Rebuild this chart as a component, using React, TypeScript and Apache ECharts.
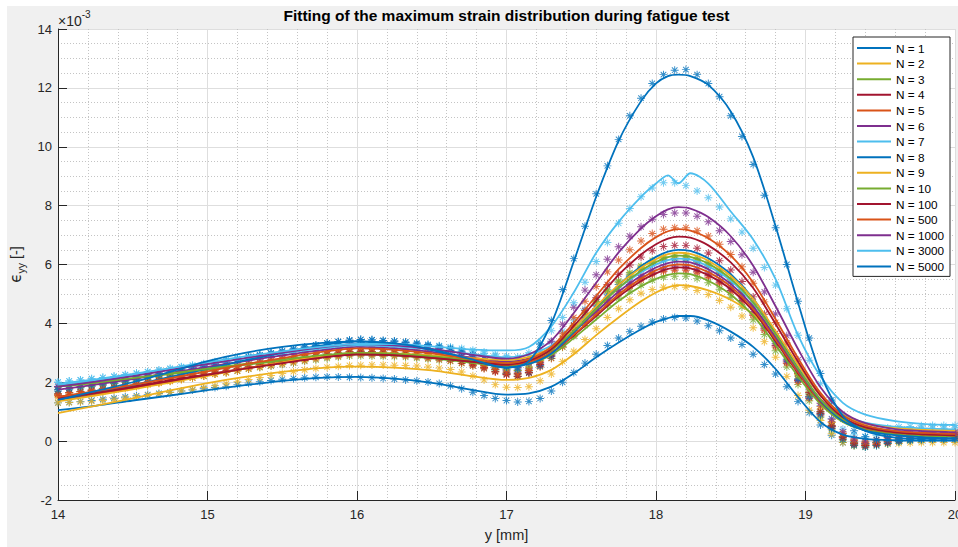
import React, { useEffect, useRef } from 'react';
import * as echarts from 'echarts';

// sample positions of the measured strain (mm)
const MX = [
  14.000, 14.075, 14.150, 14.225, 14.300, 14.375, 14.450, 14.525, 14.600, 14.675,
  14.750, 14.825, 14.900, 14.975, 15.050, 15.125, 15.200, 15.275, 15.350, 15.425,
  15.500, 15.575, 15.650, 15.725, 15.800, 15.875, 15.950, 16.025, 16.100, 16.175,
  16.250, 16.325, 16.400, 16.475, 16.550, 16.625, 16.700, 16.775, 16.850, 16.925,
  17.000, 17.075, 17.150, 17.225, 17.300, 17.375, 17.450, 17.525, 17.600, 17.675,
  17.750, 17.825, 17.900, 17.975, 18.050, 18.125, 18.200, 18.275, 18.350, 18.425,
  18.500, 18.575, 18.650, 18.725, 18.800, 18.875, 18.950, 19.025, 19.100, 19.175,
  19.250, 19.325, 19.400, 19.475, 19.550, 19.625, 19.700, 19.775, 19.850, 19.925,
  20.000,
];

// positions where the fitted curves are drawn (mm)
const LX = [14.0, 14.25, 14.5, 14.75, 15.0, 15.25, 15.5, 15.75, 16.0, 16.25, 16.5, 16.75, 17.0,
  17.15, 17.3, 17.45, 17.6, 17.75, 17.9, 18.0, 18.08, 18.15, 18.23,
  18.35, 18.5, 18.65, 18.8, 18.95, 19.1, 19.25, 19.4, 19.6, 19.8, 20.0];

const LABELS = ['N = 1', 'N = 2', 'N = 3', 'N = 4', 'N = 5', 'N = 6', 'N = 7', 'N = 8', 'N = 9', 'N = 10',
  'N = 100', 'N = 500', 'N = 1000', 'N = 3000', 'N = 5000'];

const BLUE = '#0072BD', YELLOW = '#EDB120', GREEN = '#77AC30', DRED = '#A2142F',
  ORANGE = '#D95319', PURPLE = '#7E2F8E', LBLUE = '#4DBEEE';
const COLORS = [BLUE, YELLOW, GREEN, DRED, ORANGE, PURPLE, LBLUE, BLUE, YELLOW, GREEN, DRED, ORANGE, PURPLE, LBLUE, BLUE];

// measured strain (x 1e-3)
const M_N1 = [1.30,1.32,1.35,1.38,1.42,1.46,1.50,1.54,1.58,1.62, 1.66,1.70,1.74,1.78,1.82,1.86,1.92,1.97,2.02,2.06, 2.10,2.13,2.15,2.17,2.18,2.18,2.17,2.16,2.15,2.13, 2.11,2.08,2.05,2.01,1.96,1.88,1.78,1.66,1.55,1.45, 1.38,1.33,1.35,1.45,1.70,2.00,2.33,2.65,2.95,3.25, 3.50,3.72,3.90,4.05,4.15,4.20,4.18,4.08,3.92,3.75, 3.50,3.28,2.95,2.60,2.28,1.85,1.35,0.97,0.55,0.20, -0.05,-0.10,-0.08,-0.05,-0.02,0.00,0.02,0.02,0.03,0.03, 0.03];
const M_N2 = [1.30,1.31,1.33,1.35,1.38,1.42,1.46,1.50,1.55,1.60, 1.65,1.70,1.76,1.82,1.88,1.95,2.02,2.09,2.16,2.23, 2.30,2.36,2.42,2.47,2.51,2.54,2.57,2.58,2.59,2.59, 2.58,2.57,2.55,2.52,2.48,2.43,2.35,2.22,2.08,1.92, 1.83,1.82,1.85,2.05,2.28,2.70,3.05,3.45,3.82,4.20, 4.50,4.80,5.02,5.15,5.23,5.25,5.23,5.12,4.98,4.78, 4.55,4.25,3.85,3.38,2.85,2.20,1.55,1.05,0.70,0.25, -0.05,-0.15,-0.15,-0.12,-0.10,-0.08,-0.06,-0.05,-0.05,-0.05, -0.05];
const M_N3 = [1.60,1.64,1.68,1.72,1.76,1.80,1.85,1.90,1.95,2.00, 2.06,2.11,2.16,2.21,2.28,2.33,2.38,2.45,2.50,2.55, 2.60,2.65,2.71,2.76,2.81,2.85,2.89,2.90,2.89,2.88, 2.87,2.85,2.82,2.79,2.75,2.71,2.64,2.56,2.48,2.38, 2.30,2.25,2.35,2.55,2.82,3.19,3.56,3.93,4.26,4.60, 4.86,5.10,5.30,5.47,5.57,5.60,5.60,5.52,5.38,5.16, 4.89,4.56,4.12,3.62,3.07,2.52,1.92,1.37,0.82,0.39, 0.04,-0.15,-0.20,-0.15,-0.08,-0.02,0.03,0.06,0.08,0.09, 0.10];
const M_N4 = [1.85,1.88,1.92,1.95,1.99,2.02,2.07,2.11,2.16,2.21, 2.25,2.30,2.34,2.39,2.45,2.49,2.54,2.60,2.64,2.69, 2.74,2.78,2.83,2.87,2.92,2.95,2.99,3.00,2.99,2.98, 2.97,2.94,2.92,2.88,2.84,2.79,2.72,2.64,2.55,2.44, 2.35,2.30,2.41,2.62,2.90,3.29,3.68,4.08,4.43,4.79, 5.07,5.32,5.53,5.71,5.81,5.85,5.85,5.77,5.62,5.40, 5.12,4.78,4.32,3.82,3.25,2.69,2.06,1.50,0.94,0.50, 0.15,-0.04,-0.10,-0.05,0.02,0.08,0.13,0.16,0.18,0.19, 0.20];
const M_N5 = [1.55,1.59,1.63,1.68,1.72,1.76,1.82,1.87,1.93,1.98, 2.04,2.10,2.15,2.21,2.28,2.33,2.39,2.46,2.52,2.57, 2.63,2.68,2.74,2.80,2.85,2.89,2.94,2.95,2.94,2.93, 2.91,2.89,2.86,2.82,2.78,2.73,2.65,2.56,2.46,2.35, 2.25,2.20,2.31,2.52,2.81,3.21,3.60,4.00,4.36,4.72, 5.01,5.26,5.48,5.66,5.76,5.80,5.80,5.72,5.57,5.35, 5.07,4.73,4.27,3.77,3.20,2.64,2.01,1.45,0.89,0.45, 0.10,-0.09,-0.15,-0.10,-0.03,0.03,0.08,0.11,0.13,0.14, 0.15];
const M_N6 = [1.85,1.89,1.93,1.97,2.01,2.05,2.11,2.16,2.21,2.27, 2.32,2.38,2.43,2.48,2.55,2.61,2.66,2.73,2.78,2.84, 2.89,2.94,3.00,3.05,3.11,3.15,3.19,3.20,3.19,3.17, 3.16,3.13,3.10,3.06,3.00,2.95,2.86,2.76,2.65,2.52, 2.41,2.35,2.46,2.67,2.96,3.36,3.75,4.15,4.51,4.87, 5.16,5.41,5.63,5.81,5.91,5.95,5.95,5.86,5.72,5.49, 5.20,4.86,4.40,3.88,3.31,2.73,2.10,1.52,0.96,0.51, 0.15,-0.04,-0.10,-0.05,0.02,0.08,0.13,0.16,0.18,0.19, 0.20];
const M_N7 = [2.00,2.04,2.08,2.12,2.16,2.20,2.25,2.30,2.35,2.40, 2.46,2.51,2.56,2.61,2.68,2.73,2.78,2.85,2.90,2.95, 3.00,3.05,3.11,3.16,3.21,3.25,3.29,3.30,3.30,3.29, 3.28,3.26,3.24,3.22,3.19,3.15,3.10,3.04,2.98,2.90, 2.84,2.80,2.90,3.10,3.37,3.74,4.11,4.48,4.81,5.15, 5.41,5.65,5.85,6.02,6.12,6.15,6.15,6.06,5.92,5.69, 5.41,5.07,4.61,4.10,3.53,2.96,2.33,1.76,1.20,0.76, 0.40,0.21,0.15,0.20,0.27,0.33,0.38,0.41,0.43,0.44, 0.45];
const M_N8 = [1.70,1.75,1.81,1.86,1.91,1.96,2.03,2.10,2.17,2.24, 2.31,2.38,2.45,2.52,2.61,2.68,2.75,2.84,2.91,2.98, 3.05,3.12,3.19,3.26,3.33,3.38,3.43,3.45,3.44,3.41, 3.39,3.35,3.30,3.24,3.16,3.08,2.95,2.80,2.64,2.45, 2.29,2.20,2.32,2.56,2.88,3.32,3.76,4.20,4.60,5.00, 5.32,5.60,5.84,6.04,6.16,6.20,6.20,6.11,5.96,5.71, 5.41,5.04,4.55,4.00,3.39,2.78,2.11,1.50,0.90,0.44, 0.06,-0.14,-0.20,-0.15,-0.08,-0.02,0.03,0.06,0.08,0.09, 0.10];
const M_N9 = [1.50,1.55,1.59,1.64,1.68,1.73,1.79,1.85,1.91,1.97, 2.03,2.09,2.15,2.21,2.28,2.34,2.40,2.48,2.54,2.60, 2.66,2.72,2.78,2.84,2.90,2.94,2.99,3.00,2.99,2.98, 2.97,2.95,2.93,2.90,2.86,2.82,2.76,2.69,2.61,2.52, 2.44,2.40,2.52,2.75,3.05,3.48,3.90,4.33,4.71,5.10, 5.40,5.67,5.90,6.10,6.21,6.25,6.25,6.16,6.01,5.77, 5.48,5.12,4.64,4.11,3.51,2.92,2.26,1.67,1.08,0.63, 0.26,0.06,0.00,0.05,0.12,0.18,0.23,0.26,0.28,0.29, 0.30];
const M_N10 = [1.75,1.79,1.83,1.87,1.91,1.95,2.00,2.05,2.10,2.15, 2.21,2.26,2.31,2.36,2.43,2.48,2.53,2.60,2.65,2.70, 2.75,2.80,2.86,2.91,2.96,3.00,3.04,3.05,3.04,3.03, 3.02,3.00,2.97,2.94,2.90,2.86,2.79,2.71,2.63,2.53, 2.45,2.40,2.52,2.75,3.06,3.49,3.92,4.35,4.74,5.13, 5.44,5.72,5.95,6.14,6.26,6.30,6.30,6.21,6.06,5.81, 5.51,5.14,4.65,4.10,3.49,2.88,2.21,1.60,1.00,0.54, 0.16,-0.04,-0.10,-0.05,0.02,0.08,0.13,0.16,0.18,0.19, 0.20];
const M_N100 = [1.60,1.64,1.69,1.73,1.77,1.82,1.88,1.93,1.99,2.05, 2.11,2.17,2.22,2.28,2.35,2.41,2.47,2.54,2.60,2.66, 2.72,2.77,2.83,2.89,2.95,2.99,3.04,3.05,3.04,3.02, 3.01,2.98,2.95,2.91,2.85,2.80,2.71,2.61,2.50,2.37, 2.26,2.20,2.33,2.60,2.96,3.45,3.94,4.43,4.87,5.32, 5.67,5.98,6.25,6.47,6.61,6.65,6.65,6.55,6.39,6.13, 5.81,5.42,4.90,4.31,3.66,3.01,2.30,1.65,1.01,0.52, 0.13,-0.09,-0.15,-0.10,-0.03,0.03,0.08,0.11,0.13,0.14, 0.15];
const M_N500 = [1.60,1.65,1.69,1.74,1.79,1.83,1.89,1.96,2.02,2.08, 2.14,2.20,2.27,2.33,2.41,2.47,2.53,2.61,2.67,2.73, 2.79,2.86,2.92,2.98,3.04,3.09,3.13,3.15,3.14,3.12, 3.11,3.08,3.04,3.00,2.94,2.88,2.79,2.68,2.57,2.43, 2.31,2.25,2.40,2.70,3.10,3.65,4.20,4.75,5.25,5.75, 6.15,6.50,6.80,7.05,7.20,7.25,7.25,7.15,6.97,6.69, 6.34,5.92,5.36,4.73,4.03,3.33,2.56,1.86,1.18,0.66, 0.25,0.02,-0.05,0.00,0.07,0.13,0.18,0.21,0.23,0.24, 0.25];
const M_N1000 = [1.85,1.90,1.94,1.99,2.03,2.08,2.14,2.20,2.26,2.32, 2.38,2.44,2.50,2.56,2.63,2.69,2.75,2.83,2.89,2.95, 3.01,3.07,3.13,3.19,3.25,3.29,3.34,3.35,3.34,3.32, 3.31,3.28,3.25,3.21,3.15,3.10,3.01,2.91,2.80,2.67, 2.56,2.50,2.66,2.97,3.39,3.97,4.55,5.13,5.65,6.18, 6.60,6.96,7.28,7.54,7.70,7.75,7.75,7.64,7.45,7.15, 6.78,6.33,5.74,5.07,4.32,3.58,2.76,2.01,1.29,0.75, 0.31,0.07,0.00,0.05,0.12,0.18,0.23,0.26,0.28,0.29, 0.30];
const M_N3000 = [2.00,2.04,2.08,2.12,2.16,2.20,2.26,2.31,2.36,2.42, 2.47,2.53,2.58,2.63,2.70,2.76,2.81,2.88,2.93,2.99, 3.04,3.09,3.15,3.20,3.26,3.30,3.34,3.35,3.35,3.34, 3.33,3.31,3.29,3.27,3.24,3.20,3.15,3.09,3.03,2.95, 2.89,2.85,3.00,3.30,3.75,4.20,4.70,5.40,6.10,6.75, 7.40,7.90,8.30,8.60,8.78,8.78,8.68,8.50,8.27,7.95, 7.55,7.10,6.55,5.90,5.30,4.50,3.60,2.75,1.95,1.30, 0.85,0.60,0.45,0.42,0.45,0.48,0.50,0.52,0.53,0.53, 0.53];
const M_N5000 = [1.75,1.80,1.85,1.90,1.95,2.01,2.07,2.14,2.21,2.28, 2.35,2.41,2.48,2.55,2.63,2.70,2.77,2.86,2.92,2.99, 3.06,3.13,3.20,3.26,3.33,3.38,3.43,3.45,3.44,3.42, 3.40,3.37,3.33,3.28,3.22,3.15,3.05,2.93,2.80,2.65, 2.52,2.45,2.75,3.30,4.10,5.15,6.20,7.30,8.40,9.35, 10.25,11.05,11.65,12.15,12.45,12.60,12.62,12.45,12.15,11.70, 11.05,10.35,9.40,8.35,7.25,6.00,4.75,3.50,2.30,1.40, 0.75,0.35,0.15,0.05,0.03,0.03,0.05,0.06,0.07,0.08, 0.08];

// fitted strain (x 1e-3) at LX
const L_N1 = [1.05,1.20,1.38,1.55,1.73,1.90,2.05,2.15,2.18, 2.12,1.98,1.76,1.58, 1.62,1.85,2.30,2.85,3.35,3.80,4.05,4.18,4.25,4.25, 4.10,3.72,3.20,2.45,1.50,0.65,0.22,0.08,0.03,0.02,0.02];
const L_N2 = [0.95,1.20,1.45,1.72,1.97,2.18,2.35,2.48,2.53, 2.50,2.40,2.22,2.08, 2.15,2.42,2.95,3.60,4.20,4.75,5.05,5.22,5.30,5.27, 5.12,4.80,4.30,3.55,2.55,1.55,0.80,0.40,0.22,0.18,0.17];
const L_N3 = [1.85,1.98,2.13,2.28,2.43,2.59,2.73,2.86,2.95, 2.91,2.81,2.67,2.55, 2.64,2.93,3.50,4.13,4.76,5.26,5.51,5.65,5.70,5.67, 5.45,4.98,4.26,3.26,2.20,1.26,0.65,0.37,0.23,0.18,0.15];
const L_N4 = [1.50,1.67,1.86,2.07,2.27,2.47,2.66,2.83,2.95, 2.92,2.83,2.71,2.60, 2.70,3.00,3.59,4.25,4.91,5.44,5.70,5.85,5.90,5.87, 5.64,5.16,4.42,3.39,2.31,1.34,0.71,0.43,0.29,0.23,0.20];
const L_N5 = [1.40,1.59,1.80,2.02,2.25,2.47,2.68,2.87,3.00, 2.96,2.86,2.72,2.60, 2.70,3.01,3.62,4.30,4.98,5.52,5.80,5.95,6.00,5.97, 5.74,5.25,4.49,3.45,2.35,1.36,0.72,0.43,0.29,0.23,0.20];
const L_N6 = [1.75,1.92,2.11,2.32,2.52,2.72,2.91,3.08,3.20, 3.15,3.03,2.85,2.70, 2.80,3.11,3.72,4.40,5.08,5.62,5.90,6.05,6.10,6.07, 5.84,5.34,4.58,3.53,2.41,1.42,0.78,0.48,0.34,0.28,0.25];
const L_N7 = [1.90,2.06,2.24,2.43,2.62,2.80,2.98,3.14,3.25, 3.21,3.11,2.97,2.85, 2.95,3.25,3.86,4.53,5.20,5.73,6.00,6.15,6.20,6.17, 5.94,5.45,4.69,3.65,2.55,1.56,0.92,0.63,0.49,0.43,0.40];
const L_N8 = [1.40,1.64,1.90,2.18,2.46,2.74,3.00,3.24,3.40, 3.31,3.09,2.77,2.50, 2.62,2.98,3.70,4.50,5.30,5.94,6.26,6.44,6.50,6.46, 6.21,5.67,4.84,3.68,2.47,1.38,0.68,0.36,0.20,0.13,0.10];
const L_N9 = [1.35,1.55,1.76,1.99,2.22,2.46,2.67,2.87,3.00, 2.98,2.91,2.83,2.75, 2.86,3.19,3.85,4.58,5.31,5.89,6.18,6.35,6.40,6.36, 6.13,5.61,4.83,3.74,2.59,1.56,0.89,0.59,0.44,0.38,0.35];
const L_N10 = [1.85,1.99,2.14,2.30,2.46,2.62,2.77,2.91,3.00, 2.97,2.88,2.76,2.65, 2.76,3.09,3.75,4.48,5.21,5.79,6.08,6.25,6.30,6.26, 6.03,5.51,4.71,3.62,2.46,1.42,0.75,0.44,0.29,0.23,0.20];
const L_N100 = [1.45,1.63,1.83,2.04,2.25,2.46,2.65,2.83,2.95, 2.92,2.83,2.71,2.60, 2.73,3.12,3.91,4.78,5.65,6.34,6.69,6.88,6.95,6.91, 6.65,6.07,5.20,3.98,2.70,1.55,0.81,0.47,0.30,0.23,0.20];
const L_N500 = [1.50,1.70,1.91,2.14,2.37,2.61,2.82,3.02,3.15, 3.10,2.98,2.80,2.65, 2.79,3.20,4.02,4.93,5.84,6.56,6.93,7.13,7.20,7.15, 6.89,6.30,5.39,4.14,2.82,1.64,0.88,0.53,0.35,0.28,0.25];
const L_N1000 = [1.85,2.02,2.21,2.42,2.62,2.82,3.01,3.18,3.30, 3.25,3.13,2.95,2.80, 2.95,3.42,4.35,5.38,6.41,7.23,7.64,7.87,7.95,7.90, 7.61,6.96,5.96,4.58,3.13,1.83,0.99,0.61,0.41,0.34,0.30];
const L_N3000 = [1.95,2.10,2.28,2.48,2.68,2.88,3.05,3.20,3.30, 3.30,3.22,3.12,3.08, 3.20,3.90,5.05,6.40,7.45,8.30,8.75,9.03,8.76,9.10, 8.75,7.80,6.85,5.50,3.60,2.20,1.30,0.90,0.68,0.58,0.55];
const L_N5000 = [1.40,1.70,2.00,2.35,2.72,3.00,3.20,3.33,3.38, 3.32,3.12,2.80,2.50, 2.72,4.00,6.10,8.30,10.20,11.55,12.15,12.40,12.45,12.40, 12.10,11.20,9.65,7.30,4.70,2.30,0.85,0.35,0.12,0.08,0.08];

const MARKERS = [M_N1, M_N2, M_N3, M_N4, M_N5, M_N6, M_N7, M_N8, M_N9, M_N10, M_N100, M_N500, M_N1000, M_N3000, M_N5000];
const FITS = [L_N1, L_N2, L_N3, L_N4, L_N5, L_N6, L_N7, L_N8, L_N9, L_N10, L_N100, L_N500, L_N1000, L_N3000, L_N5000];

const TITLE = 'Fitting of the maximum strain distribution during fatigue test';
const X_NAME = 'y [mm]';
const FONT = '"Liberation Sans", Arial, Helvetica, sans-serif';
const INK = '#262626';

// asterisk marker (four thin bars, same winding)
const STAR = 'path://M-0.6,-5L0.6,-5L0.6,5L-0.6,5Z' +
  'M-5,-0.6L5,-0.6L5,0.6L-5,0.6Z' +
  'M-3.08,-3.92L3.92,3.08L3.08,3.92L-3.92,-3.08Z' +
  'M-3.08,3.92L-3.92,3.08L3.08,-3.92L3.92,-3.08Z';

export default function App() {
  const ref = useRef<HTMLDivElement>(null);
  useEffect(() => {
    if (!ref.current) return;
    const chart = echarts.init(ref.current, null, { renderer: 'svg' });
    const series: any[] = [];
    LABELS.forEach((name, k) => {
      series.push({
        type: 'scatter',
        name: name + ' data',
        data: MX.map((x, i) => [x, MARKERS[k][i]]),
        symbol: STAR,
        symbolSize: 8,
        itemStyle: { color: COLORS[k] },
        silent: true,
      });
      series.push({
        type: 'line',
        name,
        data: LX.map((x, i) => [x, FITS[k][i]]),
        symbol: 'none',
        showSymbol: false,
        smooth: 0.3,
        lineStyle: { color: COLORS[k], width: 1.8 },
        itemStyle: { color: COLORS[k] },
        silent: true,
      });
    });

    const axisCommon = {
      type: 'value',
      axisLine: { show: true, onZero: false, lineStyle: { color: INK, width: 1 } },
      axisTick: { show: true, inside: true, length: 9, lineStyle: { color: INK, width: 1 } },
      splitLine: { show: true, lineStyle: { color: '#dedede', width: 1 } },
      minorSplitLine: { show: true, lineStyle: { color: '#c4c4c4', width: 1, type: [1, 2] } },
    };

    chart.setOption({
      animation: false,
      textStyle: { fontFamily: FONT },
      grid: {
        left: 51, top: 23, right: 3, bottom: 47,
        containLabel: false,
        outerBoundsMode: 'none',
        show: true, backgroundColor: '#ffffff', borderWidth: 0,
      },
      xAxis: {
        ...axisCommon,
        min: 14, max: 20, interval: 1,
        minorTick: { show: false, splitNumber: 5 },
        axisLabel: { color: INK, fontSize: 13, margin: 8, fontFamily: FONT },
        name: X_NAME,
        nameLocation: 'middle',
        nameGap: 27,
        nameTextStyle: { color: INK, fontSize: 14.5, fontFamily: FONT },
      },
      yAxis: {
        ...axisCommon,
        min: -2, max: 14, interval: 2,
        minorTick: { show: false, splitNumber: 4 },
        axisLabel: { color: INK, fontSize: 13, margin: 6, fontFamily: FONT },
        name: '{e|ϵ}{s|yy}{t| [-]}',
        nameLocation: 'middle',
        nameGap: 27,
        nameRotate: 90,
        nameTextStyle: {
          color: INK, fontSize: 14.5, fontFamily: FONT,
          rich: {
            e: { fontSize: 15, lineHeight: 22, color: INK, fontFamily: '"DejaVu Sans", sans-serif' },
            s: { fontSize: 10.5, lineHeight: 10, verticalAlign: 'bottom', color: INK, fontFamily: FONT },
            t: { fontSize: 14.5, lineHeight: 22, color: INK, fontFamily: FONT },
          },
        },
      },
      legend: {
        data: LABELS,
        orient: 'vertical',
        left: 846,
        top: 31,
        icon: 'rect',
        itemWidth: 34,
        itemHeight: 2,
        itemGap: 1.6,
        padding: [4, 6, 3, 4],
        backgroundColor: '#ffffff',
        borderColor: INK,
        borderWidth: 1,
        selectedMode: false,
        textStyle: { fontSize: 11.75, color: '#000', fontFamily: FONT, lineHeight: 14 },
      },
      graphic: [
        {
          type: 'text',
          x: 499.5,
          y: 9.5,
          style: {
            text: TITLE,
            fontSize: 15.5,
            fontWeight: 'bold',
            fontFamily: FONT,
            fill: '#000',
            align: 'center',
            verticalAlign: 'middle',
          },
        },
        {
          type: 'text',
          x: 51,
          y: 14.5,
          style: {
            text: '{a|×10}{b|-3}',
            fontFamily: FONT,
            fill: INK,
            align: 'left',
            verticalAlign: 'middle',
            rich: {
              a: { fontSize: 14, lineHeight: 22, fill: INK, fontFamily: FONT },
              b: { fontSize: 10, lineHeight: 8, verticalAlign: 'top', fill: INK, fontFamily: FONT },
            },
          },
        },
      ],
      series,
    });
    return () => chart.dispose();
  }, []);
  return (
    <div
      ref={ref}
      style={{ position: 'absolute', left: 7, top: 6, width: 951, height: 541, background: '#f0f0f0' }}
    />
  );
}
